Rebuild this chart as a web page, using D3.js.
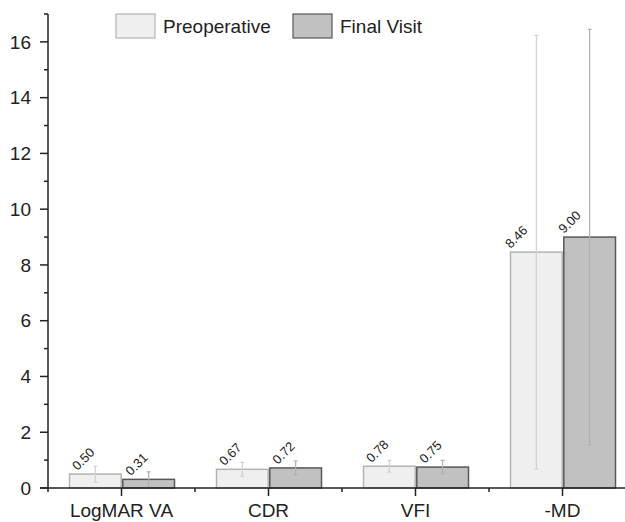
<!DOCTYPE html>
<html>
<head>
<meta charset="utf-8">
<script src="https://cdn.jsdelivr.net/npm/d3@7"></script>
<style>
  html, body { margin: 0; padding: 0; background: #fff; }
  svg { display: block; font-family: "Liberation Sans", Arial, sans-serif; }
</style>
</head>
<body>
<svg id="chart" width="625" height="522"></svg>
<script>
// Measures compared before surgery and at the final visit
const categories = ["LogMAR VA", "CDR", "VFI", "-MD"];
const seriesNames = ["Preoperative", "Final Visit"];
const preValues = [0.50, 0.67, 0.78, 8.46];
const finalValues = [0.31, 0.72, 0.75, 9.00];
const preSD = [0.28, 0.25, 0.21, 7.77];
const finalSD = [0.27, 0.25, 0.24, 7.45];
const yTicks = [0, 2, 4, 6, 8, 10, 12, 14, 16];

const svg = d3.select("#chart");
const margin = { left: 48, top: 14, bottom: 34 };
const H = 522;
const y0 = H - margin.bottom; // baseline pixel
const x = d3.scaleBand().domain(categories).range([margin.left, margin.left + 4 * 147]).padding(0);
const y = d3.scaleLinear().domain([0, 17]).range([y0, margin.top]);
const half = x.bandwidth() / 2;
const sub = d3.scaleBand().domain(seriesNames).range([half - 52, half + 53]).paddingInner(0.03).paddingOuter(0);

const styles = {
  "Preoperative": { fill: "#efefef", stroke: "#b3b3b3", err: "#d0d0d0" },
  "Final Visit": { fill: "#c1c1c1", stroke: "#585858", err: "#b0b0b0" }
};

const rows = [];
categories.forEach((c, i) => {
  rows.push({ cat: c, s: "Preoperative", v: preValues[i], sd: preSD[i] });
  rows.push({ cat: c, s: "Final Visit", v: finalValues[i], sd: finalSD[i] });
});

const barLeft = d => x(d.cat) + sub(d.s);
const barMid = d => barLeft(d) + sub.bandwidth() / 2;

// bars
svg.append("g").selectAll("rect").data(rows).join("rect")
  .attr("x", barLeft)
  .attr("y", d => y(d.v))
  .attr("width", sub.bandwidth())
  .attr("height", d => y0 - y(d.v))
  .attr("fill", d => styles[d.s].fill)
  .attr("stroke", d => styles[d.s].stroke)
  .attr("stroke-width", 1.5);

// error bars (mean ± SD)
const eg = svg.append("g").selectAll("g").data(rows).join("g")
  .attr("stroke", d => styles[d.s].err).attr("stroke-width", 1.2);
eg.append("line")
  .attr("x1", barMid).attr("x2", barMid)
  .attr("y1", d => y(d.v + d.sd))
  .attr("y2", d => y(Math.max(0, d.v - d.sd)));
[1, -1].forEach(sign => {
  eg.append("line")
    .attr("x1", d => barMid(d) - 2)
    .attr("x2", d => barMid(d) + 2)
    .attr("y1", d => y(d.v + sign * d.sd))
    .attr("y2", d => y(d.v + sign * d.sd));
});

// value labels, slanted above each bar
svg.append("g").selectAll("text").data(rows).join("text")
  .attr("transform", d => `translate(${barLeft(d) + (d.v > 5 ? 0 : 8)},${y(d.v) - 3}) rotate(-45)`)
  .attr("font-size", 13)
  .attr("fill", "#222")
  .text(d => d.v.toFixed(2));

// y axis
const yAxis = svg.append("g").attr("transform", `translate(${margin.left},0)`);
yAxis.append("line").attr("x1", 0).attr("x2", 0).attr("y1", margin.top).attr("y2", y0)
  .attr("stroke", "#222").attr("stroke-width", 1.5);
d3.range(0, 17).forEach(v => {
  const major = v % 2 === 0;
  yAxis.append("line").attr("x1", major ? -8 : -4).attr("x2", 0)
    .attr("y1", y(v)).attr("y2", y(v)).attr("stroke", "#222").attr("stroke-width", 1.5);
});
yAxis.append("line").attr("x1", -4).attr("x2", 0).attr("y1", margin.top).attr("y2", margin.top)
  .attr("stroke", "#222").attr("stroke-width", 1.5);
yAxis.selectAll("text.tl").data(yTicks).join("text")
  .attr("x", -17).attr("y", d => y(d)).attr("dy", "0.35em")
  .attr("text-anchor", "end").attr("font-size", 19).attr("fill", "#222")
  .text(d => d);

// x axis
const xAxis = svg.append("g");
xAxis.append("line").attr("x1", margin.left - 8).attr("x2", 625).attr("y1", y0).attr("y2", y0)
  .attr("stroke", "#222").attr("stroke-width", 1.5);
categories.forEach(c => {
  const cx = x(c) + half;
  xAxis.append("line").attr("x1", cx).attr("x2", cx).attr("y1", y0).attr("y2", y0 + 8)
    .attr("stroke", "#222").attr("stroke-width", 1.5);
  xAxis.append("line").attr("x1", x(c)).attr("x2", x(c)).attr("y1", y0).attr("y2", y0 + 4)
    .attr("stroke", "#222").attr("stroke-width", 1.5);
  xAxis.append("text").attr("x", cx).attr("y", y0 + 29)
    .attr("text-anchor", "middle").attr("font-size", 19).attr("fill", "#222").text(c);
});

// legend
const legendX = [116, 293];
seriesNames.forEach((s, i) => {
  const g = svg.append("g").attr("transform", `translate(${legendX[i]},14)`);
  g.append("rect").attr("width", 39).attr("height", 24)
    .attr("fill", styles[s].fill).attr("stroke", styles[s].stroke).attr("stroke-width", 1.2);
  g.append("text").attr("x", 47).attr("y", 19).attr("font-size", 19).attr("fill", "#222").text(s);
});
</script>
</body>
</html>
